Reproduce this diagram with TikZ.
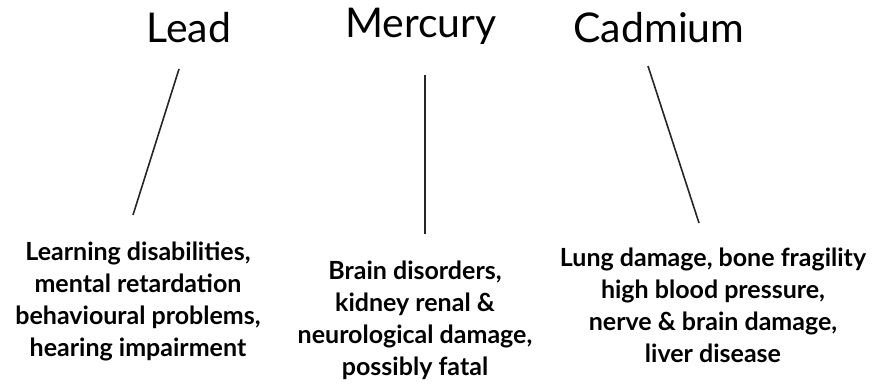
\documentclass[tikz,border=0pt]{standalone}
\usepackage{fontspec}
\setmainfont{Lato}
\usetikzlibrary{positioning}

\begin{document}
\begin{tikzpicture}[
    x=1pt, y=-1pt,
    metal/.style={font=\fontsize{41}{44}\selectfont, anchor=base, inner sep=0pt},
    effect/.style={font=\fontsize{25}{32}\selectfont\bfseries, align=center, anchor=north, inner sep=0pt},
    link/.style={line width=1.6pt, black!85}
]
    \useasboundingbox (0,0) rectangle (873,383);

    % metals
    \node[metal] (lead) at (189,42) {Lead};
    \node[metal] (mercury) at (421,37) {Mercury};
    \node[metal] (cadmium) at (659,42) {Cadmium};

    % health effects
    \node[effect] (lead_fx) at (138,242) {Learning disabilities,\\mental retardation\\behavioural problems,\\hearing impairment};
    \node[effect] (mercury_fx) at (415,261) {Brain disorders,\\kidney renal \&\\neurological damage,\\possibly fatal};
    \node[effect] (cadmium_fx) at (713,248) {Lung damage, bone fragility\\high blood pressure,\\nerve \& brain damage,\\liver disease};

    \coordinate (lead_top) at (179,69);
    \coordinate (lead_bot) at (133,215);
    \coordinate (mercury_top) at (425,75);
    \coordinate (mercury_bot) at (425,234);
    \coordinate (cadmium_top) at (648,66);
    \coordinate (cadmium_bot) at (699,223);

    \draw[link] (lead_top) -- (lead_bot);
    \draw[link] (mercury_top) -- (mercury_bot);
    \draw[link] (cadmium_top) -- (cadmium_bot);
\end{tikzpicture}
\end{document}
